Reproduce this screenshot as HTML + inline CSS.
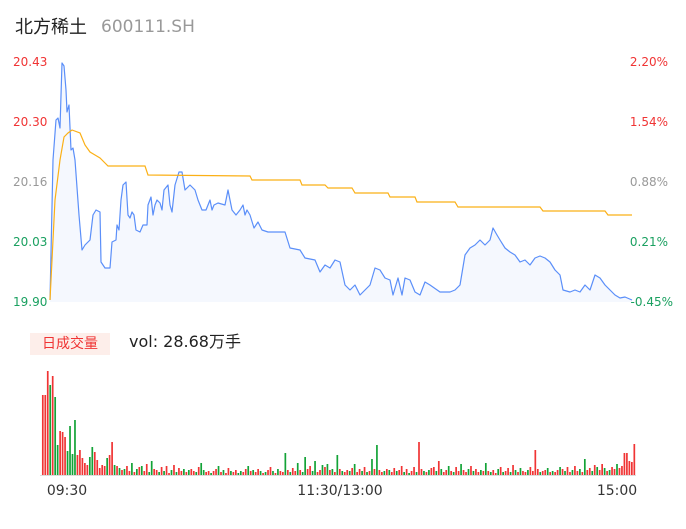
<!DOCTYPE html>
<html><head><meta charset="utf-8"><style>
body{margin:0;background:#fff;width:686px;height:524px;overflow:hidden}
</style></head><body>
<svg width="686" height="524" xmlns="http://www.w3.org/2000/svg" font-family="'DejaVu Sans','Noto Sans CJK SC',sans-serif">
<text x="15" y="33" font-size="18" fill="#222">北方稀土</text>
<text x="101" y="32" font-size="17" fill="#999">600111.SH</text>
<g font-size="12">
<text x="13" y="66" fill="#f03434">20.43</text>
<text x="13" y="126" fill="#f03434">20.30</text>
<text x="13" y="186" fill="#999">20.16</text>
<text x="13" y="246" fill="#1aa060">20.03</text>
<text x="13" y="306" fill="#1aa060">19.90</text>
<text x="668" y="66" fill="#f03434" text-anchor="end">2.20%</text>
<text x="668" y="126" fill="#f03434" text-anchor="end">1.54%</text>
<text x="668" y="186" fill="#999" text-anchor="end">0.88%</text>
<text x="668" y="246" fill="#1aa060" text-anchor="end">0.21%</text>
<text x="673" y="306" fill="#1aa060" text-anchor="end">-0.45%</text>
</g>
<polygon fill="#f5f8fe" points="50,300 53,160 56,120 58,118 60,128 62,63 64,66 66,90 67,112 69,105 71,150 73,148 75,160 79,215 82,250 85,245 90,240 93,215 96,210 100,212 101,262 105,268 110,268 112,242 116,240 117,225 119,230 121,200 123,185 126,182 128,215 130,218 132,212 134,215 136,230 140,232 143,225 147,225 148,205 151,197 153,215 155,205 157,200 160,203 162,210 164,190 168,185 170,205 172,212 175,185 179,172 182,172 185,190 190,185 195,190 198,200 202,210 206,210 210,200 212,210 214,205 218,203 225,205 228,190 232,210 236,215 240,210 243,205 245,215 247,210 250,215 254,228 258,222 262,230 268,232 285,232 290,248 300,250 305,258 315,260 320,272 325,265 330,268 335,260 340,262 345,285 350,290 355,285 360,295 365,290 370,285 375,268 380,270 385,278 390,280 393,295 398,278 402,295 405,278 410,280 415,292 420,295 425,282 430,285 440,292 450,292 455,290 460,285 465,255 470,248 475,245 480,240 485,245 490,240 493,228 497,235 500,240 505,248 510,252 515,255 520,262 525,260 530,265 535,258 540,256 545,258 550,262 555,270 560,275 563,290 570,292 575,290 580,292 585,285 590,290 595,275 600,278 605,285 610,290 615,295 620,298 625,297 632,300 632,302 50,302"/>
<polyline fill="none" stroke="#5b8ff9" stroke-width="1.2" stroke-linejoin="round" points="50,300 53,160 56,120 58,118 60,128 62,63 64,66 66,90 67,112 69,105 71,150 73,148 75,160 79,215 82,250 85,245 90,240 93,215 96,210 100,212 101,262 105,268 110,268 112,242 116,240 117,225 119,230 121,200 123,185 126,182 128,215 130,218 132,212 134,215 136,230 140,232 143,225 147,225 148,205 151,197 153,215 155,205 157,200 160,203 162,210 164,190 168,185 170,205 172,212 175,185 179,172 182,172 185,190 190,185 195,190 198,200 202,210 206,210 210,200 212,210 214,205 218,203 225,205 228,190 232,210 236,215 240,210 243,205 245,215 247,210 250,215 254,228 258,222 262,230 268,232 285,232 290,248 300,250 305,258 315,260 320,272 325,265 330,268 335,260 340,262 345,285 350,290 355,285 360,295 365,290 370,285 375,268 380,270 385,278 390,280 393,295 398,278 402,295 405,278 410,280 415,292 420,295 425,282 430,285 440,292 450,292 455,290 460,285 465,255 470,248 475,245 480,240 485,245 490,240 493,228 497,235 500,240 505,248 510,252 515,255 520,262 525,260 530,265 535,258 540,256 545,258 550,262 555,270 560,275 563,290 570,292 575,290 580,292 585,285 590,290 595,275 600,278 605,285 610,290 615,295 620,298 625,297 632,300"/>
<polyline fill="none" stroke="#fbb016" stroke-width="1.2" points="50,300 55,200 60,160 64,137 68,133 72,130 80,133 85,145 90,152 95,155 100,158 105,163 108,166 145,166 148,175 250,176 252,180 300,180 302,185 325,185 328,188 352,188 355,193 388,193 390,197 415,197 417,202 455,202 458,207 540,207 543,211 605,211 608,215 632,215"/>
<rect x="30" y="333" width="80" height="22" fill="#fdeeea"/>
<text x="70" y="348" font-size="14" fill="#f03434" text-anchor="middle">日成交量</text>
<text x="129" y="347" font-size="16" fill="#222">vol: 28.68万手</text>
<path fill="none" stroke="#f03434" stroke-width="1.7" d="M42.8 475 v-80m2.475 80 v-80m2.475 80 v-104m2.475 104 m2.475 0 v-99m2.475 99 m4.95 0 v-44m2.475 44 v-43m2.475 43 v-38m2.475 38 m9.9 0 v-20m2.475 20 v-25m2.475 25 v-17m2.475 17 v-12m2.475 12 v-10m2.475 10 m4.95 0 v-23m2.475 23 v-15m2.475 15 v-7m2.475 7 v-10m2.475 10 v-9m2.475 9 m2.475 0 v-20m2.475 20 v-33m2.475 33 m2.475 0 v-9m2.475 9 m2.475 0 v-5m2.475 5 m2.475 0 v-9m2.475 9 v-4m2.475 4 m2.475 0 v-3m2.475 3 m2.475 0 v-8m2.475 8 m2.475 0 v-4m2.475 4 v-11m2.475 11 m4.95 0 v-6m2.475 6 v-5m2.475 5 m2.475 0 v-8m2.475 8 m2.475 0 v-9m2.475 9 v-2m2.475 2 m2.475 0 v-10m2.475 10 m2.475 0 v-7m2.475 7 v-4m2.475 4 m2.475 0 v-3m2.475 3 m2.475 0 v-6m2.475 6 v-4m2.475 4 m2.475 0 v-8m2.475 8 m4.95 0 v-3m2.475 3 v-4m2.475 4 m2.475 0 v-4m2.475 4 v-6m2.475 6 m2.475 0 v-3m2.475 3 m2.475 0 v-2m2.475 2 v-7m2.475 7 m2.475 0 v-3m2.475 3 v-5m2.475 5 m4.95 0 v-3m2.475 3 v-6m2.475 6 m2.475 0 v-4m2.475 4 m2.475 0 v-3m2.475 3 v-6m2.475 6 m2.475 0 v-2m2.475 2 m2.475 0 v-5m2.475 5 v-8m2.475 8 m2.475 0 v-2m2.475 2 m2.475 0 v-4m2.475 4 v-3m2.475 3 m2.475 0 v-5m2.475 5 m2.475 0 v-7m2.475 7 v-4m2.475 4 m2.475 0 v-5m2.475 5 m4.95 0 v-6m2.475 6 v-9m2.475 9 m4.95 0 v-3m2.475 3 v-5m2.475 5 m2.475 0 v-8m2.475 8 m2.475 0 v-5m2.475 5 m2.475 0 v-3m2.475 3 m2.475 0 v-6m2.475 6 m2.475 0 v-3m2.475 3 v-5m2.475 5 m2.475 0 v-7m2.475 7 m2.475 0 v-3m2.475 3 v-6m2.475 6 m2.475 0 v-8m2.475 8 m2.475 0 v-4m2.475 4 m2.475 0 v-6m2.475 6 m2.475 0 v-5m2.475 5 v-3m2.475 3 m2.475 0 v-6m2.475 6 m2.475 0 v-3m2.475 3 v-7m2.475 7 m2.475 0 v-5m2.475 5 v-9m2.475 9 m2.475 0 v-6m2.475 6 m2.475 0 v-4m2.475 4 v-8m2.475 8 m2.475 0 v-33m2.475 33 v-6m2.475 6 m2.475 0 v-3m2.475 3 m2.475 0 v-7m2.475 7 v-8m2.475 8 m2.475 0 v-14m2.475 14 m2.475 0 v-3m2.475 3 v-5m2.475 5 m2.475 0 v-4m2.475 4 m2.475 0 v-8m2.475 8 v-4m2.475 4 m2.475 0 v-5m2.475 5 v-3m2.475 3 m2.475 0 v-9m2.475 9 m2.475 0 v-6m2.475 6 v-3m2.475 3 m2.475 0 v-4m2.475 4 m2.475 0 v-4m2.475 4 m2.475 0 v-5m2.475 5 v-2m2.475 2 m2.475 0 v-8m2.475 8 m2.475 0 v-4m2.475 4 v-7m2.475 7 m2.475 0 v-10m2.475 10 m2.475 0 v-3m2.475 3 m2.475 0 v-4m2.475 4 v-3m2.475 3 m2.475 0 v-8m2.475 8 v-4m2.475 4 v-25m2.475 25 v-6m2.475 6 m2.475 0 v-4m2.475 4 v-5m2.475 5 m2.475 0 v-3m2.475 3 m2.475 0 v-3m2.475 3 v-5m2.475 5 m2.475 0 v-6m2.475 6 m2.475 0 v-8m2.475 8 v-3m2.475 3 m2.475 0 v-9m2.475 9 v-4m2.475 4 m2.475 0 v-3m2.475 3 m2.475 0 v-5m2.475 5 v-7m2.475 7 m2.475 0 v-10m2.475 10 m2.475 0 v-5m2.475 5 v-11m2.475 11 m2.475 0 v-4m2.475 4 m2.475 0 v-8m2.475 8 v-6m2.475 6 m2.475 0 v-7m2.475 7 v-9m2.475 9 v-22m2.475 22 v-22m2.475 22 v-14m2.475 14 v-13m2.475 13 v-31"/>
<path fill="none" stroke="#13a337" stroke-width="1.7" d="M42.8 475 m7.425 0 v-90m2.475 90 m2.475 0 v-78m2.475 78 v-30m2.475 30 m7.425 0 v-24m2.475 24 v-49m2.475 49 v-21m2.475 21 v-55m2.475 55 m12.375 0 v-18m2.475 18 v-28m2.475 28 m12.375 0 v-17m2.475 17 m4.95 0 v-10m2.475 10 m2.475 0 v-7m2.475 7 m2.475 0 v-6m2.475 6 m4.95 0 v-12m2.475 12 m2.475 0 v-6m2.475 6 m2.475 0 v-9m2.475 9 m4.95 0 v-3m2.475 3 v-14m2.475 14 m4.95 0 v-3m2.475 3 m2.475 0 v-4m2.475 4 m4.95 0 v-5m2.475 5 m2.475 0 v-3m2.475 3 m4.95 0 v-6m2.475 6 m2.475 0 v-5m2.475 5 m4.95 0 v-3m2.475 3 m2.475 0 v-12m2.475 12 v-5m2.475 5 m4.95 0 v-2m2.475 2 m4.95 0 v-9m2.475 9 m2.475 0 v-5m2.475 5 m4.95 0 v-4m2.475 4 m4.95 0 v-2m2.475 2 v-4m2.475 4 m4.95 0 v-9m2.475 9 m2.475 0 v-5m2.475 5 m4.95 0 v-4m2.475 4 m2.475 0 v-3m2.475 3 m4.95 0 v-4m2.475 4 m2.475 0 v-6m2.475 6 m4.95 0 v-22m2.475 22 m2.475 0 v-3m2.475 3 m4.95 0 v-12m2.475 12 m2.475 0 v-3m2.475 3 v-18m2.475 18 m4.95 0 v-4m2.475 4 v-14m2.475 14 m4.95 0 v-10m2.475 10 m2.475 0 v-11m2.475 11 m2.475 0 v-6m2.475 6 m2.475 0 v-20m2.475 20 m2.475 0 v-4m2.475 4 m4.95 0 v-4m2.475 4 m2.475 0 v-11m2.475 11 m4.95 0 v-4m2.475 4 m2.475 0 v-3m2.475 3 m2.475 0 v-16m2.475 16 m2.475 0 v-30m2.475 30 m4.95 0 v-4m2.475 4 m2.475 0 v-5m2.475 5 m4.95 0 v-4m2.475 4 m4.95 0 v-3m2.475 3 m2.475 0 v-2m2.475 2 m4.95 0 v-3m2.475 3 m4.95 0 v-4m2.475 4 m2.475 0 v-5m2.475 5 m4.95 0 v-4m2.475 4 m2.475 0 v-6m2.475 6 m4.95 0 v-9m2.475 9 m2.475 0 v-3m2.475 3 m4.95 0 v-11m2.475 11 m4.95 0 v-6m2.475 6 m2.475 0 v-4m2.475 4 m4.95 0 v-5m2.475 5 m2.475 0 v-12m2.475 12 m2.475 0 v-3m2.475 3 m4.95 0 v-6m2.475 6 m2.475 0 v-3m2.475 3 m4.95 0 v-3m2.475 3 m2.475 0 v-5m2.475 5 m2.475 0 v-7m2.475 7 m4.95 0 v-5m2.475 5 m9.9 0 v-3m2.475 3 m4.95 0 v-7m2.475 7 m2.475 0 v-4m2.475 4 m4.95 0 v-8m2.475 8 m2.475 0 v-4m2.475 4 m4.95 0 v-5m2.475 5 m4.95 0 v-6m2.475 6 m2.475 0 v-16m2.475 16 m4.95 0 v-4m2.475 4 m2.475 0 v-8m2.475 8 m4.95 0 v-7m2.475 7 m2.475 0 v-5m2.475 5 m4.95 0 v-11"/>
<line x1="40" y1="475.5" x2="636" y2="475.5" stroke="#ddd"/>
<g font-size="14" fill="#333">
<text x="67" y="495" text-anchor="middle">09:30</text>
<text x="340" y="495" text-anchor="middle">11:30/13:00</text>
<text x="617" y="495" text-anchor="middle">15:00</text>
</g>
</svg>
</body></html>
